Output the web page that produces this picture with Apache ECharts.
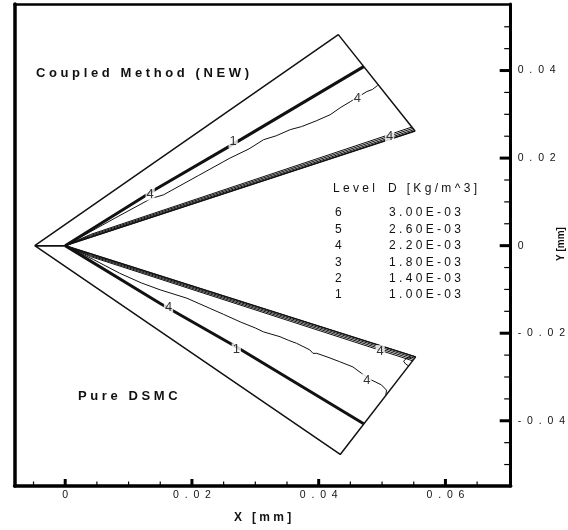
<!DOCTYPE html>
<html>
<head>
<meta charset="utf-8">
<script src="https://cdn.jsdelivr.net/npm/echarts@6/dist/echarts.min.js"></script>
<style>
  html, body { margin: 0; padding: 0; background: #fff; }
  #chart { width: 568px; height: 530px; }
</style>
</head>
<body>
<div id="chart"></div>
<script>
// ---------- axis ranges and ticks ----------
const xRange = [-0.008, 0.0703];
const yRange = [-0.0549, 0.0552];
const xMajorTicks = [0, 0.02, 0.04, 0.06];
const xMinorTicks = [-0.005, 0.005, 0.01, 0.015, 0.025, 0.03, 0.035, 0.045, 0.05, 0.055, 0.065];
const yMajorTicks = [-0.04, -0.02, 0, 0.02, 0.04];
const yMinorTicks = [-0.05, -0.045, -0.035, -0.03, -0.025, -0.015, -0.01, -0.005,
                     0.005, 0.01, 0.015, 0.025, 0.03, 0.035, 0.045, 0.05];

// ---------- geometry (x, y in mm) ----------
const upperWedge = [[-0.0048, 0], [0.0431, 0.0482], [0.0552, 0.0262], [0, 0], [-0.0048, 0]];
const lowerWedge = [[-0.0048, 0], [0.0434, -0.0477], [0.0553, -0.0254], [0, 0], [-0.0048, 0]];

// contour level 1 bundle (thick lines)
const upperThick = [[0, 0], [0.0144, 0.0130], [0.0265, 0.0232], [0.0471, 0.0409]];
const lowerThick = [[0, 0], [0.0150, -0.0132], [0.0271, -0.0232], [0.0471, -0.0407]];

// contour bundle along the inner walls (one entry per bundled line: near-origin point, wall end point)
const upperBandMid = [[0.004, 0.0019], [0.004, 0.00212], [0.004, 0.00234], [0.004, 0.00256]];
const upperBandEnds = [[0.0552, 0.0262], [0.05504, 0.0265], [0.05487, 0.0268], [0.05471, 0.0271]];
const lowerBandMid = [[0.004, -0.00184], [0.004, -0.00206], [0.004, -0.00228], [0.004, -0.0025]];
const lowerBandEnds = [[0.0553, -0.0254], [0.05514, -0.0257], [0.05498, -0.0260], [0.05482, -0.0263]];

// contour level 4 (thin wavy lines)
const upperLevel4 = [[0, 0], [0.0080, 0.0064], [0.0136, 0.0108], [0.0155, 0.0116], [0.0210, 0.0160],
  [0.0260, 0.0200], [0.0290, 0.0221], [0.0313, 0.0242], [0.0333, 0.0251], [0.0355, 0.0265],
  [0.0373, 0.0272], [0.0396, 0.0285], [0.0418, 0.0299], [0.0435, 0.0316], [0.0450, 0.0329],
  [0.0476, 0.0352], [0.0485, 0.0357], [0.0493, 0.0366]];
const lowerLevel4 = [[0, 0], [0.0045, -0.0032], [0.0086, -0.0063], [0.0120, -0.0085], [0.0150, -0.0101],
  [0.0192, -0.0120], [0.0228, -0.0143], [0.0250, -0.0157], [0.0276, -0.0174], [0.0300, -0.0188],
  [0.0313, -0.0197], [0.0339, -0.0208], [0.0352, -0.0216], [0.0365, -0.0223], [0.0386, -0.0238],
  [0.0391, -0.0246], [0.0397, -0.0246], [0.0413, -0.0254], [0.0433, -0.0265], [0.0454, -0.0277],
  [0.0468, -0.0292], [0.0482, -0.0306], [0.0499, -0.0318], [0.0507, -0.0330], [0.0506, -0.0341]];
const lowerCornerLoop = [[0.0546, -0.0255], [0.0538, -0.0258], [0.0534, -0.0264], [0.0537, -0.0270], [0.0542, -0.0275]];

// contour labels
const contourLabelX = [0.0134, 0.0265, 0.0461, 0.0512, 0.0163, 0.0270, 0.0476, 0.0497];
const contourLabelY = [0.0118, 0.0238, 0.0337, 0.0249, -0.0142, -0.0238, -0.0307, -0.0242];
const contourLabelText = ['4', '1', '4', '4', '4', '1', '4', '4'];

// legend table
const legendLevels = [6, 5, 4, 3, 2, 1];
const legendDensity = [3.00e-3, 2.60e-3, 2.20e-3, 1.80e-3, 1.40e-3, 1.00e-3];

// annotations
const upperTitle = 'Coupled Method (NEW)';
const lowerTitle = 'Pure DSMC';
const legendHeadA = 'Level';
const legendHeadB = 'D [Kg/m^3]';
const xTitle = 'X [mm]';
const yTitle = 'Y [mm]';

// ---------- helpers ----------
const FONT = '"Liberation Sans", Arial, sans-serif';
function spaced(s, n) {
  const gap = ' '.repeat(n);
  return s.split('').map(c => c === ' ' ? ' '.repeat(n) : c).join(gap);
}
function tickFmt(v) {
  if (Math.abs(v) < 1e-9) return '0';
  return spaced(String(+v.toFixed(3)), 2);
}
function sci(v) {
  const [m, e] = v.toExponential(2).split('e');
  const ev = parseInt(e, 10);
  const es = (ev < 0 ? '-' : '+') + String(Math.abs(ev)).padStart(2, '0');
  return m + 'E' + es;
}
function line(data, width) {
  return {
    type: 'line', data, symbol: 'none', showSymbol: false, silent: true,
    animation: false, clip: false,
    lineStyle: { color: '#111', width }, z: 2
  };
}

const series = [];
series.push(line(upperWedge, 1.5));
series.push(line(lowerWedge, 1.5));
series.push(line(upperThick, 3));
series.push(line(lowerThick, 3));
upperBandEnds.forEach((p, i) => series.push(line([[0, 0], upperBandMid[i], p], 1)));
lowerBandEnds.forEach((p, i) => series.push(line([[0, 0], lowerBandMid[i], p], 1)));
series.push(line(upperLevel4, 1));
series.push(line(lowerLevel4, 1));
series.push(line(lowerCornerLoop, 1));
series.push({
  type: 'scatter', silent: true, animation: false,
  symbolSize: 1, itemStyle: { color: 'rgba(0,0,0,0)' }, z: 10,
  data: contourLabelX.map((x, i) => [x, contourLabelY[i], contourLabelText[i]]),
  label: {
    show: true, position: 'inside', formatter: p => p.data[2],
    fontFamily: FONT, fontSize: 13, color: '#000',
    backgroundColor: '#fff', padding: [0, 1]
  }
});

// axis ticks (inward), placed through the library's coordinate system
const TICK_STYLE = { major: [7, 3], minor: [4.5, 1.2] };
const TICK_STYLE_Y = { major: [11, 3], minor: [6.5, 1.2] };
series.push({
  type: 'custom', silent: true, animation: false, clip: false, z: 5,
  data: xMajorTicks.map(v => [v, yRange[0], 1]).concat(xMinorTicks.map(v => [v, yRange[0], 0])),
  renderItem: (params, api) => {
    const p = api.coord([api.value(0), api.value(1)]);
    const st = api.value(2) ? TICK_STYLE.major : TICK_STYLE.minor;
    return { type: 'line', shape: { x1: p[0], y1: p[1], x2: p[0], y2: p[1] - st[0] },
             style: { stroke: '#000', lineWidth: st[1] } };
  }
});
series.push({
  type: 'custom', silent: true, animation: false, clip: false, z: 5,
  data: yMajorTicks.map(v => [xRange[1], v, 1]).concat(yMinorTicks.map(v => [xRange[1], v, 0])),
  renderItem: (params, api) => {
    const p = api.coord([api.value(0), api.value(1)]);
    const st = api.value(2) ? TICK_STYLE_Y.major : TICK_STYLE_Y.minor;
    return { type: 'line', shape: { x1: p[0], y1: p[1], x2: p[0] - st[0], y2: p[1] },
             style: { stroke: '#000', lineWidth: st[1] } };
  }
});

// ---------- graphic texts ----------
const graphics = [];
function txt(text, x, y, font, align, rot) {
  graphics.push({
    type: 'text', x, y, rotation: rot || 0, silent: true, z: 20,
    style: { text, font, fill: '#111', align: align || 'left', verticalAlign: 'middle',
             textAlign: align || 'left', textVerticalAlign: 'middle' }
  });
}
txt(spaced(upperTitle, 1), 36, 73, 'bold 13px ' + FONT);
txt(spaced(lowerTitle, 1), 78, 396, 'bold 13px ' + FONT);
txt(spaced(legendHeadA, 1), 333, 189, '12px ' + FONT);
txt(spaced(legendHeadB, 1), 388, 189, '12px ' + FONT);
legendLevels.forEach((lv, i) => {
  const y = 213 + 16.4 * i;
  txt(String(lv), 335, y, '12px ' + FONT);
  txt(spaced(sci(legendDensity[i]), 1), 389, y, '12px ' + FONT);
});
txt(spaced(xTitle, 1), 262.6, 518, 'bold 12px ' + FONT, 'center');
txt(yTitle, 561, 244, 'bold 10px ' + FONT, 'center', Math.PI / 2);

// ---------- chart ----------
const axisBase = (extra) => Object.assign({
  type: 'value', splitLine: { show: false }, axisLabel: { show: false },
  axisTick: { show: false }, axisLine: { show: false, onZero: false }
}, extra);

const option = {
  animation: false,
  backgroundColor: '#fff',
  grid: { left: 14.5, right: 57.3, top: 4, bottom: 44, containLabel: false },
  xAxis: [
    axisBase({
      position: 'bottom', min: xRange[0], max: xRange[1],
      axisLine: { show: true, onZero: false, lineStyle: { color: '#000', width: 3.5 } },
      axisLabel: { show: true, customValues: xMajorTicks, formatter: tickFmt, margin: 4,
                   fontFamily: FONT, fontSize: 10.5, color: '#111' }
    }),
    axisBase({
      position: 'top', min: xRange[0], max: xRange[1],
      axisLine: { show: true, onZero: false, lineStyle: { color: '#000', width: 2.5 } }
    })
  ],
  yAxis: [
    axisBase({
      position: 'right', min: yRange[0], max: yRange[1],
      axisLine: { show: true, onZero: false, lineStyle: { color: '#000', width: 3 } },
      axisLabel: { show: true, customValues: yMajorTicks, formatter: tickFmt, margin: 7,
                   fontFamily: FONT, fontSize: 10.5, color: '#111' }
    }),
    axisBase({
      position: 'left', min: yRange[0], max: yRange[1],
      axisLine: { show: true, onZero: false, lineStyle: { color: '#000', width: 3.5 } }
    })
  ],
  series: series.map(s => Object.assign({ xAxisIndex: 0, yAxisIndex: 0 }, s)),
  graphic: graphics
};

const chart = echarts.init(document.getElementById('chart'), null, { renderer: 'canvas' });
chart.setOption(option);
</script>
</body>
</html>
